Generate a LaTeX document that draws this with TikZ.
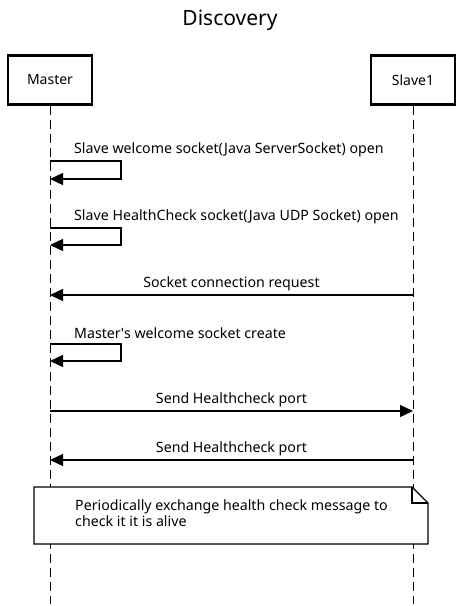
\documentclass[tikz,border=0pt]{standalone}
\usepackage{fontspec}
\setmainfont{Noto Sans}
\usetikzlibrary{arrows.meta, positioning}

\begin{document}
\begin{tikzpicture}[x=1pt, y=-1pt,
  actor/.style={draw, line width=2.2pt, minimum width=84pt, minimum height=49pt, font=\fontsize{14}{16}\selectfont},
  life/.style={line width=1pt, dash pattern=on 9pt off 5pt},
  msg/.style={line width=1.3pt, -{Triangle[length=13pt, width=12pt]}},
  lbl/.style={font=\fontsize{14.2}{16}\selectfont, inner sep=0pt},
  notebox/.style={draw, fill=white, line width=1.2pt}]
  \useasboundingbox (0,0) rectangle (461,606);

  \node[font=\fontsize{21}{25}\selectfont] (title) at (230,20) {Discovery};

  \node[actor] (master) at (50,80) {Master};
  \node[actor] (slave) at (413,80) {Slave1};
  \coordinate (mEnd) at (50,604);
  \coordinate (sEnd) at (413,604);
  \draw[life] (master) -- (mEnd);
  \draw[life] (slave) -- (sEnd);

  % self messages on master
  \node[lbl, anchor=west] (t1) at (74,150) {Slave welcome socket(Java ServerSocket) open};
  \draw[msg] (master |- 0,161) -| (121,179) -- (master |- 0,179);

  \node[lbl, anchor=west] (t2) at (74,217) {Slave HealthCheck socket(Java UDP Socket) open};
  \draw[msg] (master |- 0,228) -| (121,245) -- (master |- 0,245);

  \draw[msg] (slave |- 0,295) -- node[lbl, above=3pt] (t3) {Socket connection request} (master |- 0,295);

  \node[lbl, anchor=west] (t4) at (74,333) {Master\textquotesingle s welcome socket create};
  \draw[msg] (master |- 0,344) -| (121,361) -- (master |- 0,361);

  \draw[msg] (master |- 0,411) -- node[lbl, above=3pt] (t5) {Send Healthcheck port} (slave |- 0,411);
  \draw[msg] (slave |- 0,460) -- node[lbl, above=3pt] (t6) {Send Healthcheck port} (master |- 0,460);

  % note
  \draw[notebox] (34,487) -- (412,487) -- (428,503) -- (428,544) -- (34,544) -- cycle;
  \draw[line width=1.2pt] (412,487) -- (412,503) -- (428,503);
  \node[lbl, anchor=north west, align=left] (note) at (75,500) {Periodically exchange health check message to\\check it it is alive};
\end{tikzpicture}
\end{document}
